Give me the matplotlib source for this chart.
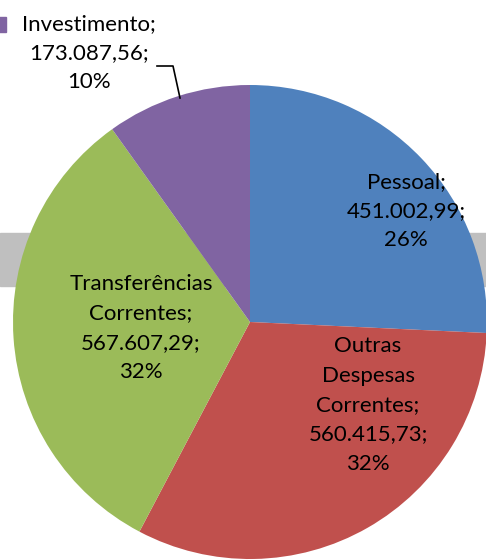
import matplotlib
matplotlib.use("Agg")
import matplotlib.pyplot as plt
from matplotlib.patches import Rectangle

# ---- data ----
categories = ["Pessoal", "Outras\nDespesas\nCorrentes", "Transferências\nCorrentes", "Investimento"]
values = [451002.99, 560415.73, 567607.29, 173087.56]
colors = ["#4F81BD", "#C0504D", "#9BBB59", "#8064A2"]

# ---- layout (pixel coordinates, y from bottom) ----
W, H = 486, 560
center = (250, H - 322)
radius = 237
label_pos = [(406, H - 211), (368, H - 405), (141, H - 328), (89, H - 53)]

def fmt_br(v):
    s = f"{v:,.2f}"
    return s.replace(",", "X").replace(".", ",").replace("X", ".")

plt.rcParams['font.family'] = ['Lato', 'DejaVu Sans']
fig = plt.figure(figsize=(W / 100, H / 100), dpi=100)
ax = fig.add_axes([0, 0, 1, 1])

# gray band behind the pie
ax.axhspan(H - 286, H - 233, color="#BFBFBF", zorder=0)

ax.pie(values, colors=colors, startangle=90, counterclock=False,
       center=center, radius=radius, frame=True,
       wedgeprops=dict(linewidth=0, zorder=1))
ax.set_xlim(0, W)
ax.set_ylim(0, H)
ax.set_aspect('equal')
ax.axis('off')

total = sum(values)
for cat, v, (x, y) in zip(categories, values, label_pos):
    txt = f"{cat};\n{fmt_br(v)};\n{round(v / total * 100):.0f}%"
    ax.text(x, y, txt, ha='center', va='center', fontsize=16,
            linespacing=1.58, color='black', zorder=5)

# leader line for Investimento
ax.plot([157, 173, 180], [H - 66, H - 66, H - 98], color='black', lw=1.2, zorder=5)
# legend key inside label
ax.add_patch(Rectangle((-9, H - 32), 15, 15, color=colors[3], zorder=5, clip_on=True))

fig.savefig("out.png", dpi=100)
